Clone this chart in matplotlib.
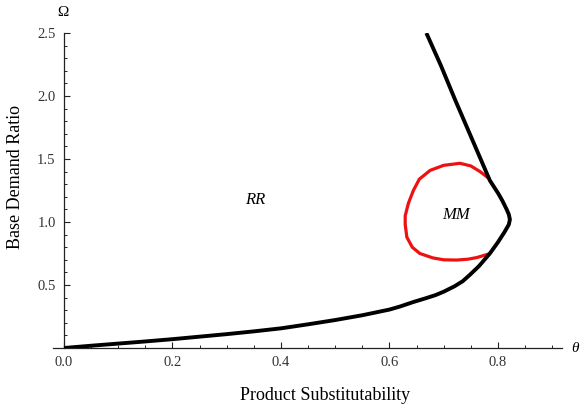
import matplotlib
matplotlib.use("Agg")
import matplotlib.pyplot as plt
from matplotlib.ticker import MultipleLocator

# Boundary curve (black): lower branch then upper branch
theta_boundary = [0.0, 0.05, 0.10, 0.15, 0.20, 0.25, 0.30, 0.35, 0.40, 0.45, 0.50, 0.55,
                  0.60, 0.62, 0.644, 0.667, 0.685, 0.70, 0.72, 0.735, 0.748, 0.765,
                  0.785, 0.80, 0.812, 0.82, 0.822, 0.82, 0.816, 0.808, 0.80, 0.785,
                  0.773, 0.761, 0.741, 0.721, 0.695, 0.668]
omega_boundary = [0.0, 0.018, 0.035, 0.052, 0.07, 0.09, 0.11, 0.132, 0.156, 0.188, 0.222, 0.26,
                  0.305, 0.33, 0.365, 0.395, 0.42, 0.447, 0.49, 0.53, 0.58, 0.65,
                  0.75, 0.84, 0.92, 0.98, 1.02, 1.06, 1.10, 1.17, 1.23, 1.33,
                  1.45, 1.57, 1.77, 1.97, 2.24, 2.5]

# MM region boundary (red)
theta_mm = [0.782, 0.767, 0.75, 0.730, 0.70, 0.675, 0.655, 0.644, 0.635, 0.629, 0.629,
            0.632, 0.642, 0.656, 0.68, 0.70, 0.724, 0.745, 0.761, 0.782]
omega_mm = [1.35, 1.40, 1.445, 1.466, 1.45, 1.41, 1.34, 1.25, 1.15, 1.05, 0.98,
            0.88, 0.80, 0.75, 0.715, 0.70, 0.698, 0.705, 0.718, 0.745]

xticks = [0.0, 0.2, 0.4, 0.6, 0.8]
yticks = [0.5, 1.0, 1.5, 2.0, 2.5]

plt.rcParams['font.family'] = ['Liberation Serif', 'DejaVu Serif']

fig = plt.figure(figsize=(5.82, 4.13), dpi=100)
ax = fig.add_axes([0.0904, 0.1574, 0.9656 - 0.0904, 0.920 - 0.1574])

ax.plot(theta_mm, omega_mm, color='#ee1111', lw=2.3, solid_capstyle='round',
        solid_joinstyle='round', zorder=2)
ax.plot(theta_boundary, omega_boundary, color='black', lw=2.8, solid_capstyle='butt',
        solid_joinstyle='round', zorder=3)

ax.set_xlim(-0.021, 0.918)
ax.set_ylim(0, 2.5)

for s in ['top', 'right']:
    ax.spines[s].set_visible(False)
ax.spines['left'].set_position(('data', 0))
ax.spines['bottom'].set_position(('data', 0))
ax.spines['left'].set_bounds(0, 2.5)
for s in ['left', 'bottom']:
    ax.spines[s].set_linewidth(0.9)
    ax.spines[s].set_color('#222222')

ax.set_xticks(xticks)
ax.set_xticklabels([f"{v:.1f}" for v in xticks])
ax.set_yticks(yticks)
ax.set_yticklabels([f"{v:.1f}" for v in yticks])
ax.xaxis.set_minor_locator(MultipleLocator(0.05))
ax.yaxis.set_minor_locator(MultipleLocator(0.1))
ax.tick_params(which='major', direction='in', length=4.5, width=0.8, color='#222222',
               labelsize=10.5, labelcolor='#333333', pad=6)
ax.tick_params(which='minor', direction='in', length=2.5, width=0.7, color='#222222')

ax.text(0.352, 1.175, 'RR', style='italic', fontsize=12, ha='center', va='center')
ax.text(0.723, 1.056, 'MM', style='italic', fontsize=12, ha='center', va='center')

fig.text(62.7 / 582, 1 - 12.7 / 413, 'Ω', fontsize=11, ha='center', va='center')
fig.text(575 / 582, 1 - 348 / 413, 'θ', fontsize=11, style='italic', ha='center', va='center')

fig.text(325 / 582, 1 - 395 / 413, 'Product Substitutability', fontsize=13, ha='center', va='center')
fig.text(16 / 582, 1 - 177 / 413, 'Base Demand Ratio', fontsize=13, ha='center', va='center',
         rotation=90)

fig.savefig('out.png', dpi=100)
